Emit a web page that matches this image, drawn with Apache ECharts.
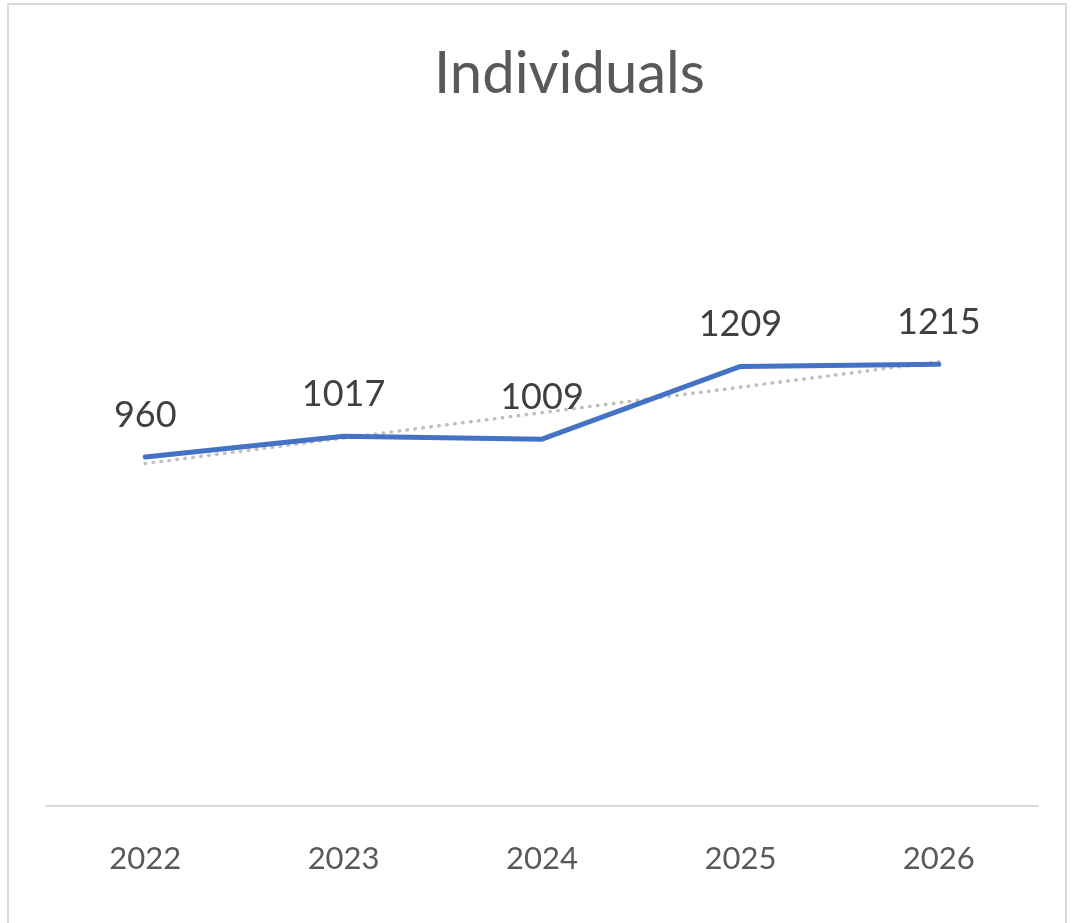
<!DOCTYPE html>
<html>
<head>
<meta charset="utf-8">
<script src="https://cdn.jsdelivr.net/npm/echarts@6/dist/echarts.min.js"></script>
<style>
body{margin:0;background:#fff;}
#frame{position:absolute;left:7px;top:3px;width:1060px;height:940px;border:2px solid #d9d9d9;box-sizing:border-box;}
#chart{position:absolute;left:0;top:0;width:1076px;height:923px;}
</style>
</head>
<body>
<div id="frame"></div>
<div id="chart"></div>
<script>
// years on the x axis
const years = ['2022', '2023', '2024', '2025', '2026']
// individuals per year
const individuals = [960, 1017, 1009, 1209, 1215]
// linear trendline as drawn in the picture
const trend = [942, 1012, 1082, 1152, 1222]

const myChart = echarts.init(document.getElementById('chart'))
const option = {
    animation: false,
    title: {
        text: 'Individuals',
        left: 429,
        top: 40,
        textStyle: {
            fontFamily: 'Lato',
            fontSize: 58,
            fontWeight: 'normal',
            color: '#595959'
        }
    },
    grid: {
        left: 46,
        right: 38,
        top: 297,
        bottom: 117
    },
    xAxis: {
        type: 'category',
        data: years,
        boundaryGap: true,
        axisLine: { lineStyle: { color: '#d9d9d9', width: 2 } },
        axisTick: { show: false },
        axisLabel: {
            fontFamily: 'Lato',
            fontSize: 31,
            color: '#595959',
            margin: 37
        }
    },
    yAxis: {
        type: 'value',
        min: 0,
        max: 1400,
        interval: 200,
        show: false,
        splitLine: { show: false }
    },
    series: [
        {
            name: 'Trend',
            type: 'line',
            data: trend,
            symbol: 'none',
            silent: true,
            z: 1,
            lineStyle: { color: '#bfbfbf', width: 3.5, type: [0.5, 7.5], cap: 'round' }
        },
        {
            name: 'Individuals',
            type: 'line',
            data: individuals,
            symbol: 'circle',
            symbolSize: 0,
            showSymbol: true,
            z: 2,
            lineStyle: { color: '#4472c4', width: 5, cap: 'round', join: 'round' },
            itemStyle: { color: '#4472c4' },
            label: {
                show: true,
                position: 'top',
                distance: 24,
                fontFamily: 'Lato',
                fontSize: 36,
                color: '#404040'
            }
        }
    ]
}
myChart.setOption(option)
</script>
</body>
</html>
